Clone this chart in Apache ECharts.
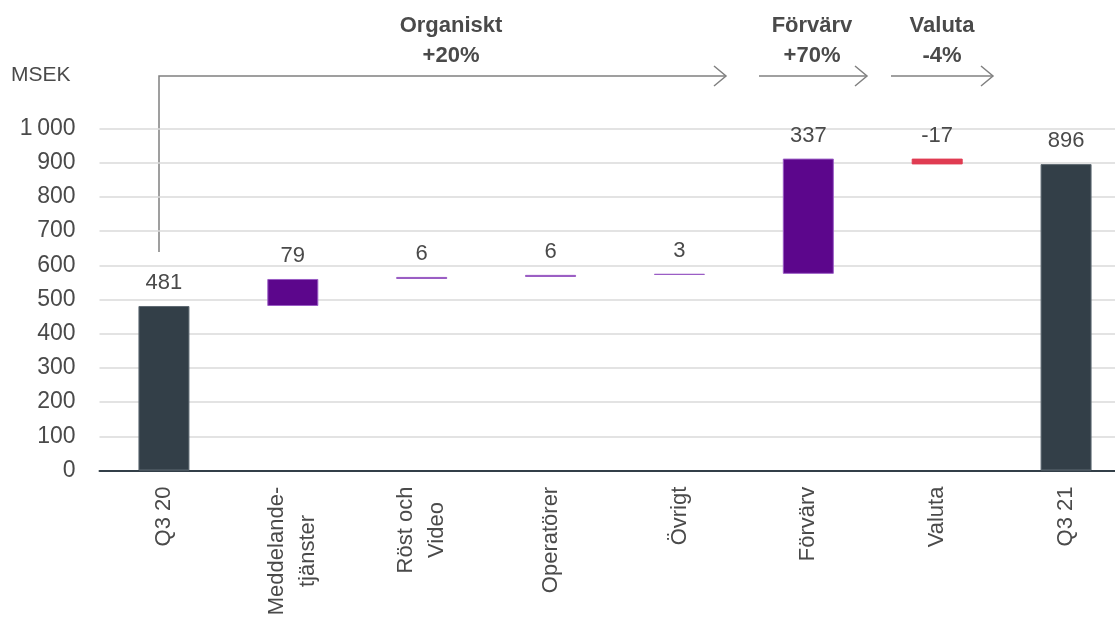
<!DOCTYPE html>
<html>
<head>
<meta charset="utf-8">
<script src="https://cdn.jsdelivr.net/npm/echarts@6/dist/echarts.min.js"></script>
<style>
html,body{margin:0;padding:0;background:#fff;}
#chart{width:1115px;height:625px;}
</style>
</head>
<body>
<div id="chart"></div>
<script>
const categories = ['Q3 20', 'Meddelande-\ntjänster', 'Röst och\nVideo', 'Operatörer', 'Övrigt', 'Förvärv', 'Valuta', 'Q3 21'];
const values = [481, 79, 6, 6, 3, 337, -17, 896];
const kinds = ['total', 'delta', 'delta', 'delta', 'delta', 'delta', 'delta', 'total'];
const groupLabels = ['Organiskt\n+20%', 'Förvärv\n+70%', 'Valuta\n-4%'];
const yTickMin = 0, yTickMax = 1000, yTickStep = 100;
const unitLabel = 'MSEK';

const DARK = '#333f48', PURPLE = '#5c068c', RED = '#e03c52';
const TEXT = '#4a4a4a';
const FONT = '"Liberation Sans", Arial, sans-serif';

// build waterfall base / height
const base = [], height = [];
let run = 0;
values.forEach((v, i) => {
  if (kinds[i] === 'total') { base.push(0); height.push(v); run = v; }
  else if (v >= 0) { base.push(run); height.push(v); run += v; }
  else { run += v; base.push(run); height.push(-v); }
});

const barData = height.map((h, i) => {
  let color, border;
  if (kinds[i] === 'total') { color = DARK; border = '#5f6a73'; }
  else if (values[i] >= 0) { color = PURPLE; border = '#9a5cc4'; }
  else { color = RED; border = RED; }
  return { value: h, itemStyle: { color: color, borderColor: border, borderWidth: 1 } };
});

// rich styles so multi-line category labels are centred line by line
const measure = document.createElement('canvas').getContext('2d');
measure.font = '22px ' + FONT;
const rich = {};
categories.forEach((c, i) => {
  const w = Math.max(...c.split('\n').map(l => measure.measureText(l).width));
  rich['w' + i] = { width: Math.ceil(w), align: 'center', fontSize: 22, lineHeight: 31, color: TEXT, fontFamily: FONT };
});

const chart = echarts.init(document.getElementById('chart'), null, { renderer: 'canvas' });

const arrowColor = '#808080';
function chevron(x, y) {
  return { type: 'polyline', shape: { points: [[x - 12, y - 10], [x, y], [x - 12, y + 10]] },
    style: { stroke: arrowColor, lineWidth: 1.5, fill: null } };
}
function groupText(x, t) {
  return { type: 'text', x: x, y: 41, style: { text: t, fill: TEXT, font: 'bold 22px ' + FONT, textAlign: 'center', textVerticalAlign: 'middle', lineHeight: 30 } };
}

chart.setOption({
  animation: false,
  backgroundColor: '#ffffff',
  grid: { left: 99.5, top: 128.5, width: 1031, height: 342, containLabel: false, outerBoundsMode: 'none' },
  xAxis: {
    type: 'category',
    data: categories,
    axisTick: { show: false },
    axisLine: { lineStyle: { color: DARK, width: 2 } },
    axisLabel: {
      rotate: 90, margin: 16, color: TEXT, fontSize: 22, fontFamily: FONT,
      lineHeight: 31, interval: 0, rich: rich,
      formatter: (val, idx) => val.split('\n').map(l => '{w' + idx + '|' + l + '}').join('\n')
    }
  },
  yAxis: {
    type: 'value',
    min: yTickMin, max: yTickMax, interval: yTickStep,
    axisLine: { show: false },
    axisTick: { show: false },
    splitLine: { lineStyle: { color: '#dadada', width: 1.5 } },
    axisLabel: {
      color: TEXT, fontSize: 23, fontFamily: FONT, margin: 24,
      formatter: v => v >= 1000 ? String(v).replace(/\B(?=(\d{3})+(?!\d))/g, '\u2009') : String(v)
    }
  },
  series: [
    {
      type: 'bar', stack: 'wf', data: base, barWidth: 51,
      itemStyle: { color: 'transparent' }, emphasis: { disabled: true }, silent: true
    },
    {
      type: 'bar', stack: 'wf', data: barData, barWidth: 51,
      emphasis: { disabled: true },
      label: {
        show: true, position: 'top', distance: 12, color: TEXT, fontSize: 22, fontFamily: FONT,
        formatter: p => String(values[p.dataIndex])
      }
    }
  ],
  graphic: [
    { type: 'text', left: 11, top: 65, style: { text: unitLabel, fill: TEXT, font: '21px ' + FONT } },
    groupText(451, groupLabels[0]),
    groupText(812, groupLabels[1]),
    groupText(942, groupLabels[2]),
    { type: 'polyline', shape: { points: [[159, 252], [159, 76], [726, 76]] }, style: { stroke: arrowColor, lineWidth: 1.5, fill: null } },
    chevron(726, 76),
    { type: 'polyline', shape: { points: [[759, 76], [867, 76]] }, style: { stroke: arrowColor, lineWidth: 1.5, fill: null } },
    chevron(867, 76),
    { type: 'polyline', shape: { points: [[891, 76], [993, 76]] }, style: { stroke: arrowColor, lineWidth: 1.5, fill: null } },
    chevron(993, 76)
  ]
});
</script>
</body>
</html>
